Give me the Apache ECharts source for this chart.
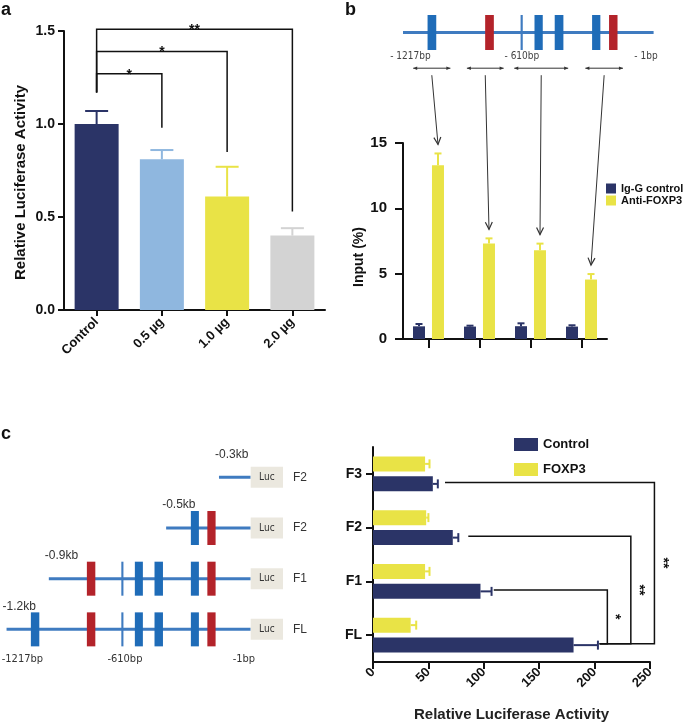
<!DOCTYPE html>
<html><head><meta charset="utf-8">
<script src="https://cdn.jsdelivr.net/npm/echarts@6/dist/echarts.min.js"></script>
<style>html,body{margin:0;padding:0;background:#fff}#c{width:685px;height:724px}</style>
</head><body><div id="c"></div>
<script>
const FONT = "'Liberation Sans', Arial, Helvetica, sans-serif";
const NARROW = "'Liberation Sans Narrow', 'DejaVu Sans Condensed', 'Liberation Sans', sans-serif";
const NAVY = '#2b3467', YELLOW = '#e9e346', LIGHTBLUE = '#8fb7df', GRAY = '#d3d3d3';
const LINEBLUE = '#3f7bc0', BOXBLUE = '#1f6cb8', RED = '#b3232a', LUC = '#ebe8df', INK = '#111';

// ---------- Panel a ----------
const aCategories = ['Control', '0.5 µg', '1.0 µg', '2.0 µg'];
const aValues = [1.0, 0.81, 0.61, 0.40];
const aErrorTop = [1.07, 0.86, 0.77, 0.44];
const aColors = [NAVY, LIGHTBLUE, YELLOW, GRAY];
const aBracketFrom = [0, 0, 0];
const aBracketTo = [1, 2, 3];
const aBracketTop = [1.27, 1.39, 1.51];
const aBracketLeftEnd = [1.17, 1.17, 1.17];
const aBracketRightEnd = [0.98, 0.85, 0.53];
const aBracketLabels = ['*', '*', '**'];

// ---------- Panel b ----------
const bCategories = ['R1', 'R2', 'R3', 'R4'];
const bIgG = [0.97, 0.95, 0.98, 0.95];
const bIgGErrTop = [1.15, 1.02, 1.2, 1.05];
const bFoxp3 = [13.3, 7.3, 6.8, 4.55];
const bFoxp3ErrTop = [14.2, 7.7, 7.3, 4.97];
// promoter scheme (bp)
const siteStart = [-1040, -775, -612, -548, -455, -283, -205];
const siteEnd = [-1000, -735, -602, -510, -415, -245, -166];
const siteType = ['blue', 'red', 'thin', 'blue', 'blue', 'blue', 'red'];
const bPromoterStart = -1153;
const bRegionStart = [-1106, -859, -641, -314];
const bRegionEnd = [-935, -690, -393, -141];
const bPosLabels = ['- 1217bp', '- 610bp', '- 1bp'];
const bPosLabelAt = [-1119, -606, -35];

// ---------- Panel c ----------
const cCategories = ['FL', 'F1', 'F2', 'F3'];
const cControl = [181, 97, 72, 54];
const cControlErrTop = [203, 107, 77, 58.5];
const cFoxp3 = [34, 47, 48, 47];
const cFoxp3ErrTop = [39, 51, 50, 51];
const cBracketRow = [1, 2, 3];
const cBracketStart = [109, 86, 65];
const cBracketVertical = [211.5, 232.7, 254];
const cBracketFLStart = [204.5, 204.5, 204.5];
const cBracketLabels = ['*', '**', '**'];
// constructs scheme
const cRowStart = [-150, -400, -955, -1155];
const cRowKb = ['-0.3kb', '-0.5kb', '-0.9kb', '-1.2kb'];
const cRowNames = ['F2', 'F2', 'F1', 'FL'];
const cLucEnd = 153;
const cRowNameAt = 200;
const cPosLabels = ['-1217bp', '-610bp', '-1bp'];
const cPosLabelAt = [-1080, -595, -32];

const chart = echarts.init(document.getElementById('c'), null, {renderer: 'canvas'});

function axisCommon() {
  return {
    axisLine: {show: true, lineStyle: {color: INK, width: 2}},
    axisTick: {show: true, lineStyle: {color: INK, width: 2}},
    splitLine: {show: false}
  };
}

// error bars vertical
function vErr(colors, offset, capW) {
  return function (params, api) {
    const i = api.value(0);
    const base = api.coord([i, api.value(1)]);
    const top = api.coord([i, api.value(2)]);
    const x = base[0] + offset;
    const c = Array.isArray(colors) ? colors[params.dataIndex] : colors;
    return {type: 'group', children: [
      {type: 'line', shape: {x1: x, y1: base[1], x2: x, y2: top[1]}, style: {stroke: c, lineWidth: 2}},
      {type: 'line', shape: {x1: x - capW / 2, y1: top[1], x2: x + capW / 2, y2: top[1]}, style: {stroke: c, lineWidth: 2}}
    ]};
  };
}
function hErr(color, offset, capH) {
  return function (params, api) {
    const i = api.value(0);
    const base = api.coord([api.value(1), i]);
    const end = api.coord([api.value(2), i]);
    const y = base[1] + offset;
    return {type: 'group', children: [
      {type: 'line', shape: {x1: base[0], y1: y, x2: end[0], y2: y}, style: {stroke: color, lineWidth: 2}},
      {type: 'line', shape: {x1: end[0], y1: y - capH / 2, x2: end[0], y2: y + capH / 2}, style: {stroke: color, lineWidth: 2}}
    ]};
  };
}

function renderABrackets(params, api) {
  const k = params.dataIndex;
  const l0 = api.coord([aBracketFrom[k], aBracketLeftEnd[k]]);
  const t0 = api.coord([aBracketFrom[k], aBracketTop[k]]);
  const t1 = api.coord([aBracketTo[k], aBracketTop[k]]);
  const r1 = api.coord([aBracketTo[k], aBracketRightEnd[k]]);
  return {type: 'group', children: [
    {type: 'polyline', shape: {points: [l0, t0, t1, r1]}, style: {stroke: INK, lineWidth: 1.5, fill: null}},
    {type: 'text', style: {text: aBracketLabels[k], x: (t0[0] + t1[0]) / 2, y: t0[1] + 1, align: 'center', verticalAlign: 'middle', font: 'bold 14px ' + FONT, fill: INK}}
  ]};
}

function renderCBrackets(params, api) {
  const k = params.dataIndex;
  const off = 8.5;
  const r = cBracketRow[k];
  const yRow = api.coord([0, r])[1] + off;
  const yFL = api.coord([0, 0])[1] + off;
  const xs = api.coord([cBracketStart[k], r])[0];
  const xv = api.coord([cBracketVertical[k], r])[0];
  const xf = api.coord([cBracketFLStart[k], 0])[0];
  return {type: 'group', children: [
    {type: 'polyline', shape: {points: [[xs, yRow], [xv, yRow], [xv, yFL], [xf, yFL]]}, style: {stroke: INK, lineWidth: 1.5, fill: null}},
    {type: 'text', rotation: -Math.PI / 2, x: xv + 8, y: (yRow + yFL) / 2,
      style: {text: cBracketLabels[k], x: 0, y: 0, align: 'center', verticalAlign: 'middle', font: 'bold 14px ' + FONT, fill: INK}}
  ]};
}

function siteColor(t) { return t === 'red' ? RED : (t === 'thin' ? LINEBLUE : BOXBLUE); }

function renderDiagramB(params, api) {
  const ch = [];
  const yMid = api.coord([0, 0.5])[1];
  const yTop = api.coord([0, 1])[1];
  const yBot = api.coord([0, 0])[1];
  const xs = api.coord([bPromoterStart, 0.5])[0];
  const xe = api.coord([0, 0.5])[0];
  ch.push({type: 'line', shape: {x1: xs, y1: yMid, x2: xe, y2: yMid}, style: {stroke: LINEBLUE, lineWidth: 3}});
  siteStart.forEach((s, k) => {
    const a = api.coord([s, 0])[0], b = api.coord([siteEnd[k], 0])[0];
    ch.push({type: 'rect', shape: {x: a, y: yTop, width: b - a, height: yBot - yTop}, style: {fill: siteColor(siteType[k])}});
  });
  const yLab = api.coord([0, -0.19])[1];
  bPosLabels.forEach((t, k) => {
    ch.push({type: 'text', style: {text: t, x: api.coord([bPosLabelAt[k], 0])[0], y: yLab, align: 'center', verticalAlign: 'middle', font: '10px ' + NARROW, fill: '#444'}});
  });
  const yArr = api.coord([0, -0.52])[1];
  bRegionStart.forEach((s, k) => {
    const a = api.coord([s, 0])[0], b = api.coord([bRegionEnd[k], 0])[0];
    ch.push({type: 'line', shape: {x1: a, y1: yArr, x2: b, y2: yArr}, style: {stroke: '#333', lineWidth: 1}});
    ch.push({type: 'polygon', shape: {points: [[a, yArr], [a + 4, yArr - 1.8], [a + 4, yArr + 1.8]]}, style: {fill: '#333'}});
    ch.push({type: 'polygon', shape: {points: [[b, yArr], [b - 4, yArr - 1.8], [b - 4, yArr + 1.8]]}, style: {fill: '#333'}});
  });
  return {type: 'group', children: ch};
}

function renderDiagramC(params, api) {
  const ch = [];
  cRowStart.forEach((start, r) => {
    const y = api.coord([0, r])[1];
    const x0 = api.coord([start, r])[0];
    const x1 = api.coord([0, r])[0];
    ch.push({type: 'line', shape: {x1: x0, y1: y, x2: x1, y2: y}, style: {stroke: LINEBLUE, lineWidth: 3}});
    siteStart.forEach((s, k) => {
      if (s < start) return;
      const a = api.coord([s, r])[0], b = api.coord([siteEnd[k], r])[0];
      ch.push({type: 'rect', shape: {x: a, y: y - 17, width: b - a, height: 34}, style: {fill: siteColor(siteType[k])}});
    });
    const lx1 = api.coord([cLucEnd, r])[0];
    ch.push({type: 'rect', shape: {x: x1, y: y - 10.5, width: lx1 - x1, height: 21}, style: {fill: LUC}});
    ch.push({type: 'text', style: {text: 'Luc', x: (x1 + lx1) / 2, y: y, align: 'center', verticalAlign: 'middle', font: '10px ' + NARROW, fill: '#333'}});
    ch.push({type: 'text', style: {text: cRowNames[r], x: api.coord([cRowNameAt, r])[0], y: y, align: 'left', verticalAlign: 'middle', font: '12px ' + FONT, fill: '#333'}});
    ch.push({type: 'text', style: {text: cRowKb[r], x: x0 - 4, y: y - 23, align: 'left', verticalAlign: 'middle', font: '12px ' + FONT, fill: '#333'}});
  });
  const yB = api.coord([0, 3])[1] + 30;
  cPosLabels.forEach((t, k) => {
    ch.push({type: 'text', style: {text: t, x: api.coord([cPosLabelAt[k], 3])[0], y: yB, align: 'center', verticalAlign: 'middle', font: '11px ' + NARROW, fill: '#333'}});
  });
  return {type: 'group', children: ch};
}

const labelText = {fontFamily: FONT, fontWeight: 'bold', color: INK};

const option = {
  backgroundColor: '#fff',
  animation: false,
  textStyle: {fontFamily: FONT},
  grid: [
    {left: 64, top: 31, width: 261, height: 279},
    {left: 403, top: 143, width: 204, height: 196},
    {left: 373, top: 447, width: 277, height: 215},
    {left: 403, top: 15, width: 250.6, height: 35},
    {left: 0, top: 452, width: 284.5, height: 202.7}
  ],
  legend: [
    {data: ['Ig-G control', 'Anti-FOXP3'], orient: 'vertical', left: 601, top: 178, itemWidth: 10, itemHeight: 10, itemGap: 1, icon: 'rect',
      textStyle: {fontFamily: FONT, fontWeight: 'bold', fontSize: 11, color: INK}},
    {data: ['Control', 'FOXP3'], orient: 'vertical', left: 509, top: 433, itemWidth: 24, itemHeight: 13, itemGap: 12, icon: 'rect',
      textStyle: {fontFamily: FONT, fontWeight: 'bold', fontSize: 13, color: INK}}
  ],
  xAxis: [
    Object.assign(axisCommon(), {gridIndex: 0, type: 'category', data: aCategories,
      axisTick: {show: true, alignWithLabel: true, length: 6, lineStyle: {color: INK, width: 2}},
      axisLabel: Object.assign({rotate: 45, fontSize: 13, margin: 10}, labelText)}),
    Object.assign(axisCommon(), {gridIndex: 1, type: 'category', data: bCategories,
      axisTick: {show: true, alignWithLabel: true, length: 9, lineStyle: {color: INK, width: 2}},
      axisLabel: {show: false}}),
    Object.assign(axisCommon(), {gridIndex: 2, type: 'value', min: 0, max: 250, interval: 50,
      axisTick: {show: true, length: 7, lineStyle: {color: INK, width: 2}},
      axisLabel: Object.assign({rotate: 45, fontSize: 13, margin: 8}, labelText),
      name: 'Relative Luciferase Activity', nameLocation: 'middle', nameGap: 45,
      nameTextStyle: {fontFamily: FONT, fontWeight: 'bold', fontSize: 15, color: '#222'}}),
    {gridIndex: 3, type: 'value', min: bPromoterStart, max: 0, show: false},
    {gridIndex: 4, type: 'value', min: -1186, max: 160, show: false}
  ],
  yAxis: [
    Object.assign(axisCommon(), {gridIndex: 0, type: 'value', min: 0, max: 1.5, interval: 0.5,
      axisTick: {show: true, length: 6, lineStyle: {color: INK, width: 2}},
      axisLabel: Object.assign({fontSize: 14, margin: 9, formatter: v => v.toFixed(1)}, labelText),
      name: 'Relative Luciferase Activity', nameLocation: 'middle', nameGap: 36,
      nameTextStyle: {fontFamily: FONT, fontWeight: 'bold', fontSize: 15, color: INK, padding: [0, 24, 0, 0]}}),
    Object.assign(axisCommon(), {gridIndex: 1, type: 'value', min: 0, max: 15, interval: 5,
      axisTick: {show: true, length: 8, lineStyle: {color: INK, width: 2}},
      axisLabel: Object.assign({fontSize: 15, margin: 16}, labelText),
      name: 'Input (%)', nameLocation: 'middle', nameGap: 36,
      nameTextStyle: {fontFamily: FONT, fontWeight: 'bold', fontSize: 14, color: INK, padding: [0, 32, 0, 0]}}),
    Object.assign(axisCommon(), {gridIndex: 2, type: 'category', data: cCategories,
      axisTick: {show: true, alignWithLabel: true, length: 7, lineStyle: {color: INK, width: 2}},
      axisLabel: Object.assign({fontSize: 14, margin: 11}, labelText)}),
    {gridIndex: 3, type: 'value', min: 0, max: 1, show: false},
    {gridIndex: 4, type: 'category', data: cRowNames.map((n, i) => 'row' + i), inverse: true, show: false}
  ],
  series: [
    // panel a
    {type: 'bar', xAxisIndex: 0, yAxisIndex: 0, barWidth: 44,
      data: aValues.map((v, i) => ({value: v, itemStyle: {color: aColors[i]}})), z: 2},
    {type: 'custom', xAxisIndex: 0, yAxisIndex: 0, renderItem: vErr(aColors, 0, 23), z: 3,
      data: aValues.map((v, i) => [i, v, aErrorTop[i]])},
    {type: 'custom', xAxisIndex: 0, yAxisIndex: 0, renderItem: renderABrackets, z: 3,
      data: aBracketFrom.map((f, k) => [f, aBracketTop[k]])},
    // panel b
    {name: 'Ig-G control', type: 'bar', xAxisIndex: 1, yAxisIndex: 1, barWidth: 12, barGap: '58%', data: bIgG, itemStyle: {color: NAVY}},
    {name: 'Anti-FOXP3', type: 'bar', xAxisIndex: 1, yAxisIndex: 1, barWidth: 12, barGap: '58%', data: bFoxp3, itemStyle: {color: YELLOW}},
    {type: 'custom', xAxisIndex: 1, yAxisIndex: 1, renderItem: vErr(NAVY, -9.5, 7), z: 3,
      data: bIgG.map((v, i) => [i, v, bIgGErrTop[i]])},
    {type: 'custom', xAxisIndex: 1, yAxisIndex: 1, renderItem: vErr(YELLOW, 9.5, 7), z: 3,
      data: bFoxp3.map((v, i) => [i, v, bFoxp3ErrTop[i]])},
    // panel c
    {name: 'FOXP3', type: 'bar', xAxisIndex: 2, yAxisIndex: 2, barWidth: 15, barGap: '33%', data: cFoxp3, itemStyle: {color: YELLOW}},
    {name: 'Control', type: 'bar', xAxisIndex: 2, yAxisIndex: 2, barWidth: 15, barGap: '33%', data: cControl, itemStyle: {color: NAVY}},
    {type: 'custom', xAxisIndex: 2, yAxisIndex: 2, renderItem: hErr(NAVY, 10, 9), z: 3,
      data: cControl.map((v, i) => [i, v, cControlErrTop[i]])},
    {type: 'custom', xAxisIndex: 2, yAxisIndex: 2, renderItem: hErr(YELLOW, -10, 9), z: 3,
      data: cFoxp3.map((v, i) => [i, v, cFoxp3ErrTop[i]])},
    {type: 'custom', xAxisIndex: 2, yAxisIndex: 2, renderItem: renderCBrackets, z: 3,
      data: cBracketRow.map((r, k) => [cBracketVertical[k], r])},
    // diagrams
    {type: 'custom', xAxisIndex: 3, yAxisIndex: 3, renderItem: renderDiagramB, silent: true, data: [[0, 0.5]]},
    {type: 'custom', xAxisIndex: 4, yAxisIndex: 4, renderItem: renderDiagramC, silent: true, data: [[0, 0]]}
  ]
};
chart.setOption(option);

// panel labels and arrows connecting scheme regions with bars
const graphics = [
  {type: 'text', left: 1, top: 1, style: {text: 'a', font: 'bold 18px ' + FONT, fill: INK}},
  {type: 'text', left: 345, top: 1, style: {text: 'b', font: 'bold 18px ' + FONT, fill: INK}},
  {type: 'text', left: 1, top: 425, style: {text: 'c', font: 'bold 18px ' + FONT, fill: INK}}
];
bFoxp3ErrTop.forEach((err, i) => {
  const mid = (bRegionStart[i] + bRegionEnd[i]) / 2;
  const p0 = chart.convertToPixel({gridIndex: 3}, [mid, -0.72]);
  const p1 = chart.convertToPixel({gridIndex: 1}, [i, err]);
  p1[0] += 9.5; p1[1] -= 9;
  const ang = Math.atan2(p1[1] - p0[1], p1[0] - p0[0]);
  const L = 8, s = 0.45;
  const h1 = [p1[0] - L * Math.cos(ang - s), p1[1] - L * Math.sin(ang - s)];
  const h2 = [p1[0] - L * Math.cos(ang + s), p1[1] - L * Math.sin(ang + s)];
  graphics.push({type: 'line', shape: {x1: p0[0], y1: p0[1], x2: p1[0], y2: p1[1]}, style: {stroke: '#333', lineWidth: 1}});
  graphics.push({type: 'polyline', shape: {points: [h1, p1, h2]}, style: {stroke: '#333', lineWidth: 1.2, fill: null}});
});
chart.setOption({graphic: graphics});
</script>
</body></html>
